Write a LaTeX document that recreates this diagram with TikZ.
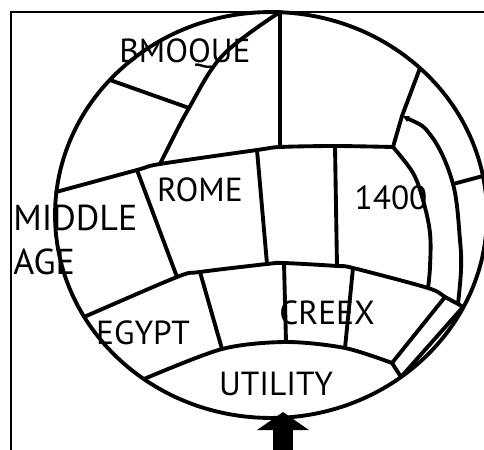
\documentclass[tikz,border=0pt]{standalone}
\usepackage{fontspec}
\setmainfont{PT Sans}
\usetikzlibrary{arrows.meta,positioning}

\begin{document}
\begin{tikzpicture}[x=0.02cm, y=-0.02cm]
        \tikzset{band/.style={line width=2.2pt, line cap=round, line join=round},
            era/.style={font=\fontsize{19pt}{24pt}\selectfont, inner sep=0pt, text=black}}
        \useasboundingbox (0,0) rectangle (484,450);
        \clip (0,0) rectangle (484,450);
        % Frame
        \draw[line width=0.7pt] (484,12) -- (11,12) -- (11,452);
        % Globe outline
        \draw[band] (271,215) ellipse [x radius=4.32cm, y radius=4.06cm];
        % Junctions on the outline
        \coordinate (top) at (280,12);
        \coordinate (w1)  at (56,192);
        \coordinate (w2)  at (84,317);
        \coordinate (w3)  at (144,379);
        \coordinate (nw)  at (110,80);
        \coordinate (ne)  at (420,68);
        \coordinate (e1)  at (483,176);
        \coordinate (e2)  at (463,307);
        \coordinate (e3)  at (401,377);
        % Upper band
        \coordinate (m1) at (137,170);
        \coordinate (m2) at (160,164);
        \coordinate (m3) at (257,150);
        \coordinate (m4) at (280,147);
        \coordinate (m5) at (335,146);
        \coordinate (m6) at (393,147);
        % Lower band
        \coordinate (b1) at (177,277);
        \coordinate (b2) at (200,272);
        \coordinate (b3) at (267,264);
        \coordinate (b4) at (284,263);
        \coordinate (b5) at (337,266);
        \coordinate (b6) at (353,268);
        \coordinate (b7) at (428,288);
        \coordinate (b8) at (445,297);
        \coordinate (b9) at (458,304);
        % Utility lens
        \coordinate (u1) at (222,349);
        \coordinate (u2) at (286,342);
        \coordinate (u3) at (345,348);
        \coordinate (u4) at (392,363);
        % Right rings
        \coordinate (a1)  at (402,116);
        \coordinate (a2)  at (453,184);
        \coordinate (mer) at (189,108);

        % Band lines
        \draw[band] plot[smooth, tension=0.5] coordinates {(w1) (m1) (m2) (m3) (m4) (m5) (m6)};
        \draw[band] plot[smooth, tension=0.5] coordinates {(w2) (b1) (b2) (b3) (b4) (b5) (b6) (b7) (b8) (b9) (e2)};
        \draw[band] plot[smooth, tension=0.5] coordinates {(w3) (u1) (u2) (u3) (u4)} -- (e3);
        % Top segments
        \draw[band] (top) -- (m4);
        \draw[band] plot[smooth, tension=0.6] coordinates {(top) (223,55) (mer) (167,150) (m2)};
        \draw[band] (nw) -- (mer);
        \draw[band] (ne) -- (a1) -- (m6);
        % Right rings
        \draw[band] plot[smooth, tension=0.6] coordinates {(m6) (413,173) (423,200) (430,233) (430,267) (b7)};
        \draw[band, {Latex[length=4pt, width=4pt]}-] plot[smooth, tension=0.6] coordinates {(a1) (432,137) (a2) (460,240) (461,270) (b9)};
        \draw[band] (a2) -- (e1);
        % Dividers
        \draw[band] (m1) -- (b1);
        \draw[band] (m3) -- (b3);
        \draw[band] (m5) -- (b5);
        \draw[band] (b2) -- (u1);
        \draw[band] (b4) -- (u2);
        \draw[band] (b6) -- (u3);
        \draw[band] (b8) -- (u4);
        \draw[band] (e2) -- (e3);
        % Arrow
        \coordinate (tip)  at (283,412);
        \coordinate (tail) at (283,458);
        \draw[line width=0.4cm, -{Triangle[length=0.36cm, width=1.02cm]}] (tail) -- (tip);
        % Labels
        \node[era] (baroque) at (185,54)  {BMOQUE};
        \node[era] (rome)    at (200,190) {ROME};
        \node[era] (c1400)   at (391,198) {1400};
        \node[era, font=\fontsize{20.5pt}{25pt}\selectfont, align=left, anchor=west] (middle) at (13,240) {MIDDLE\\AGE};
        \node[era] (egypt)   at (143,333) {EGYPT};
        \node[era] (greek)   at (327,313) {CREEX};
        \node[era] (utility) at (276,384) {UTILITY};
      \end{tikzpicture}
\end{document}
